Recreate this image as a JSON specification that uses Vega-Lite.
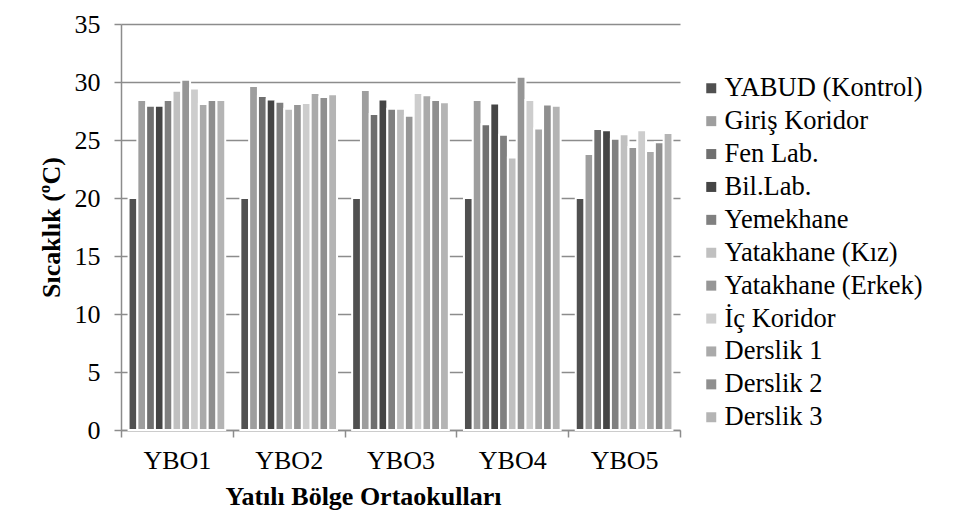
{
  "$schema": "https://vega.github.io/schema/vega-lite/v6.json",
  "width": 559,
  "height": 406,
  "autosize": {"type": "none"},
  "padding": {"left": 121, "top": 24, "right": 291, "bottom": 85},
  "background": "white",
  "data": {
    "values": [
      {"okul": "YBO1", "alan": "YABUD (Kontrol)", "sicaklik": 20.0},
      {"okul": "YBO1", "alan": "Giriş Koridor", "sicaklik": 28.45},
      {"okul": "YBO1", "alan": "Fen Lab.", "sicaklik": 27.95},
      {"okul": "YBO1", "alan": "Bil.Lab.", "sicaklik": 27.95},
      {"okul": "YBO1", "alan": "Yemekhane", "sicaklik": 28.45},
      {"okul": "YBO1", "alan": "Yatakhane (Kız)", "sicaklik": 29.25},
      {"okul": "YBO1", "alan": "Yatakhane (Erkek)", "sicaklik": 30.2},
      {"okul": "YBO1", "alan": "İç Koridor", "sicaklik": 29.45},
      {"okul": "YBO1", "alan": "Derslik 1", "sicaklik": 28.1},
      {"okul": "YBO1", "alan": "Derslik 2", "sicaklik": 28.45},
      {"okul": "YBO1", "alan": "Derslik 3", "sicaklik": 28.45},
      {"okul": "YBO2", "alan": "YABUD (Kontrol)", "sicaklik": 20.0},
      {"okul": "YBO2", "alan": "Giriş Koridor", "sicaklik": 29.65},
      {"okul": "YBO2", "alan": "Fen Lab.", "sicaklik": 28.8},
      {"okul": "YBO2", "alan": "Bil.Lab.", "sicaklik": 28.5},
      {"okul": "YBO2", "alan": "Yemekhane", "sicaklik": 28.3},
      {"okul": "YBO2", "alan": "Yatakhane (Kız)", "sicaklik": 27.7},
      {"okul": "YBO2", "alan": "Yatakhane (Erkek)", "sicaklik": 28.1},
      {"okul": "YBO2", "alan": "İç Koridor", "sicaklik": 28.2},
      {"okul": "YBO2", "alan": "Derslik 1", "sicaklik": 29.05},
      {"okul": "YBO2", "alan": "Derslik 2", "sicaklik": 28.7},
      {"okul": "YBO2", "alan": "Derslik 3", "sicaklik": 28.95},
      {"okul": "YBO3", "alan": "YABUD (Kontrol)", "sicaklik": 20.0},
      {"okul": "YBO3", "alan": "Giriş Koridor", "sicaklik": 29.3},
      {"okul": "YBO3", "alan": "Fen Lab.", "sicaklik": 27.25},
      {"okul": "YBO3", "alan": "Bil.Lab.", "sicaklik": 28.5},
      {"okul": "YBO3", "alan": "Yemekhane", "sicaklik": 27.7},
      {"okul": "YBO3", "alan": "Yatakhane (Kız)", "sicaklik": 27.7},
      {"okul": "YBO3", "alan": "Yatakhane (Erkek)", "sicaklik": 27.1},
      {"okul": "YBO3", "alan": "İç Koridor", "sicaklik": 29.05},
      {"okul": "YBO3", "alan": "Derslik 1", "sicaklik": 28.85},
      {"okul": "YBO3", "alan": "Derslik 2", "sicaklik": 28.45},
      {"okul": "YBO3", "alan": "Derslik 3", "sicaklik": 28.25},
      {"okul": "YBO4", "alan": "YABUD (Kontrol)", "sicaklik": 20.0},
      {"okul": "YBO4", "alan": "Giriş Koridor", "sicaklik": 28.45},
      {"okul": "YBO4", "alan": "Fen Lab.", "sicaklik": 26.35},
      {"okul": "YBO4", "alan": "Bil.Lab.", "sicaklik": 28.15},
      {"okul": "YBO4", "alan": "Yemekhane", "sicaklik": 25.45},
      {"okul": "YBO4", "alan": "Yatakhane (Kız)", "sicaklik": 23.5},
      {"okul": "YBO4", "alan": "Yatakhane (Erkek)", "sicaklik": 30.45},
      {"okul": "YBO4", "alan": "İç Koridor", "sicaklik": 28.45},
      {"okul": "YBO4", "alan": "Derslik 1", "sicaklik": 26.0},
      {"okul": "YBO4", "alan": "Derslik 2", "sicaklik": 28.05},
      {"okul": "YBO4", "alan": "Derslik 3", "sicaklik": 27.95},
      {"okul": "YBO5", "alan": "YABUD (Kontrol)", "sicaklik": 20.0},
      {"okul": "YBO5", "alan": "Giriş Koridor", "sicaklik": 23.8},
      {"okul": "YBO5", "alan": "Fen Lab.", "sicaklik": 25.95},
      {"okul": "YBO5", "alan": "Bil.Lab.", "sicaklik": 25.85},
      {"okul": "YBO5", "alan": "Yemekhane", "sicaklik": 25.1},
      {"okul": "YBO5", "alan": "Yatakhane (Kız)", "sicaklik": 25.5},
      {"okul": "YBO5", "alan": "Yatakhane (Erkek)", "sicaklik": 24.4},
      {"okul": "YBO5", "alan": "İç Koridor", "sicaklik": 25.85},
      {"okul": "YBO5", "alan": "Derslik 1", "sicaklik": 24.05},
      {"okul": "YBO5", "alan": "Derslik 2", "sicaklik": 24.8},
      {"okul": "YBO5", "alan": "Derslik 3", "sicaklik": 25.6}
    ]
  },
  "mark": {"type": "bar", "stroke": "white", "strokeWidth": 2},
  "encoding": {
    "x": {
      "field": "okul",
      "type": "nominal",
      "sort": null,
      "scale": {"paddingInner": 0, "paddingOuter": 0},
      "axis": {
        "title": "Yatılı Bölge Ortaokulları",
        "labelAngle": 0,
        "tickBand": "extent",
        "tickSize": 7,
        "labelPadding": 10,
        "titlePadding": 10,
        "titleX": 242,
        "titleAlign": "center",
        "grid": false
      }
    },
    "xOffset": {
      "field": "alan",
      "type": "nominal",
      "sort": null,
      "scale": {"paddingInner": 0, "paddingOuter": 0.86}
    },
    "y": {
      "field": "sicaklik",
      "type": "quantitative",
      "scale": {"domain": [0, 35], "nice": false},
      "axis": {
        "title": "Sıcaklık (ºC)",
        "values": [0, 5, 10, 15, 20, 25, 30, 35],
        "tickSize": 7,
        "labelPadding": 14,
        "titlePadding": 10,
        "grid": true
      }
    },
    "color": {
      "field": "alan",
      "type": "nominal",
      "scale": {
        "domain": ["YABUD (Kontrol)", "Giriş Koridor", "Fen Lab.", "Bil.Lab.", "Yemekhane", "Yatakhane (Kız)", "Yatakhane (Erkek)", "İç Koridor", "Derslik 1", "Derslik 2", "Derslik 3"],
        "range": ["#505050", "#9e9e9e", "#6f6f6f", "#454545", "#808080", "#c0c0c0", "#969696", "#cdcdcd", "#aaaaaa", "#8f8f8f", "#b4b4b4"]
      },
      "legend": {
        "title": null,
        "orient": "none",
        "legendX": 577,
        "legendY": 51,
        "symbolType": "square",
        "symbolSize": 100,
        "symbolStrokeWidth": 0,
        "labelFontSize": 26.5,
        "labelFont": "Liberation Serif",
        "labelColor": "black",
        "labelOffset": 0,
        "rowPadding": 5.9,
        "labelLimit": 400
      }
    }
  },
  "config": {
    "view": {"stroke": null},
    "axis": {
      "labelFont": "Liberation Serif",
      "labelFontSize": 26,
      "labelColor": "black",
      "titleFont": "Liberation Serif",
      "titleFontSize": 26,
      "titleFontWeight": "bold",
      "titleColor": "black",
      "domainColor": "#8c8c8c",
      "domainWidth": 1.5,
      "tickColor": "#8c8c8c",
      "tickWidth": 1.5,
      "gridColor": "#8c8c8c",
      "gridWidth": 1.5
    }
  }
}
